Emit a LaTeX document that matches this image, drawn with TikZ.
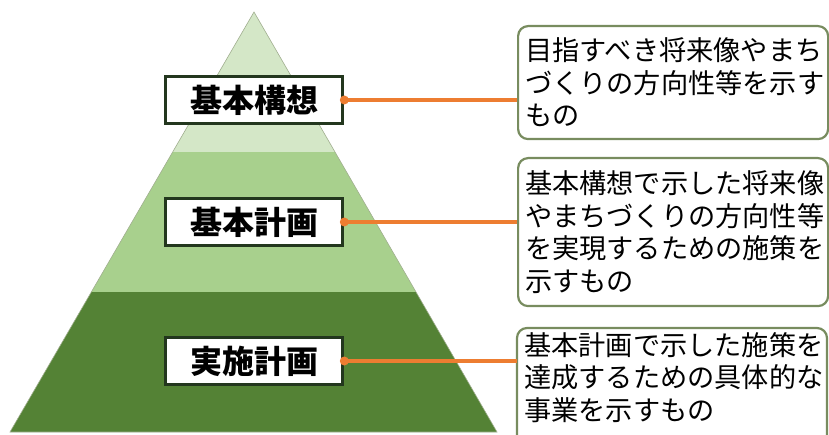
\documentclass[tikz,border=0pt]{standalone}
\usepackage{fontspec}
\newfontfamily\jp{Noto Sans CJK JP}
\definecolor{bandtop}{RGB}{212,231,199}
\definecolor{bandmid}{RGB}{168,208,141}
\definecolor{bandlow}{RGB}{84,130,53}
\definecolor{linkorange}{RGB}{237,125,49}
\definecolor{boxrim}{RGB}{120,140,95}
\definecolor{labelrim}{RGB}{35,55,30}

\begin{document}
\begin{tikzpicture}[x=1pt,y=-1pt,
    level/.style={draw=labelrim,line width=3.6pt,fill=white,minimum width=177pt,minimum height=47pt,inner sep=0pt,font=\jp\bfseries\fontsize{32}{36}\selectfont},
    note/.style={anchor=north west,text width=296pt,inner xsep=7pt,inner ysep=4pt,align=left,font=\jp\fontsize{27.2}{32.5}\selectfont},
    noterim/.style={draw=boxrim,line width=2.2pt,rounded corners=10pt,fill=white},
    link/.style={draw=linkorange,line width=3.4pt}]
    \useasboundingbox (0,0) rectangle (829,435);
    % pyramid
    \begin{scope}
        \clip (254,12) -- (497,432) -- (10,432) -- cycle;
        \fill[bandtop] (0,0) rectangle (520,152);
        \fill[bandmid] (0,152) rectangle (520,292);
        \fill[bandlow] (0,292) rectangle (520,435);
    \end{scope}
    \draw[boxrim!70,line width=0.6pt] (254,12) -- (497,432) -- (10,432) -- cycle;
    % levels
    \node[level] (kousou) at (254,100) {基本構想};
    \node[level] (keikaku) at (254,222) {基本計画};
    \node[level] (jisshi) at (254,361) {実施計画};
    % notes
    \node[note,noterim,minimum height=113pt] (n1) at (517,25) {目指すべき将来像やまち\\づくりの方向性等を示す\\もの};
    \node[note,noterim,minimum height=148pt] (n2) at (517,157) {基本構想で示した将来像\\やまちづくりの方向性等\\を実現するための施策を\\示すもの};
    % last note runs off the bottom edge
    \path[noterim] (517,328) rectangle (827,452);
    \node[note] (n3) at (517,328) {基本計画で示した施策を\\達成するための具体的な\\事業を示すもの};
    % links
    \foreach \lv/\nt in {kousou/n1,keikaku/n2,jisshi/n3}{
        \draw[link] (\lv.east) -- (\lv.east -| \nt.west);
        \fill[linkorange] (\lv.east) circle (4.5pt);
    }
\end{tikzpicture}
\end{document}
